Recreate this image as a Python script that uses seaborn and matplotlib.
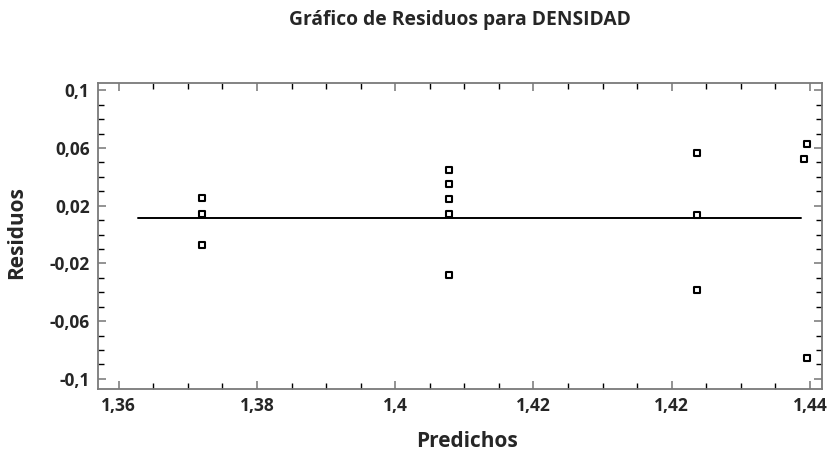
import matplotlib
matplotlib.use("Agg")
import matplotlib.pyplot as plt
import seaborn as sns
import pandas as pd
from matplotlib.ticker import FixedLocator, FixedFormatter, MultipleLocator

# Residuals vs predicted density
predichos = [1.3696, 1.3696, 1.3696,
             1.3982, 1.3982, 1.3982, 1.3982, 1.3982,
             1.4269, 1.4269, 1.4269,
             1.4397, 1.4393, 1.4397]
residuos = [0.0252, 0.0141, -0.0074,
            0.0448, 0.0351, 0.0249, 0.0143, -0.0280,
            0.0565, 0.0134, -0.0384,
            0.0630, 0.0524, -0.0852]

# Reference line
linea_x = [1.3622, 1.4390]
linea_y = [0.0113, 0.0113]

xticks = [1.36, 1.376, 1.392, 1.408, 1.424, 1.44]
xticklabels = ["1,36", "1,38", "1,4", "1,42", "1,42", "1,44"]
yticks = [-0.1, -0.06, -0.02, 0.02, 0.06, 0.1]
yticklabels = ["-0,1", "-0,06", "-0,02", "0,02", "0,06", "0,1"]

sns.set_theme(style="white")
plt.rcParams["font.family"] = ["Open Sans", "DejaVu Sans"]

W, H = 835, 455
fig = plt.figure(figsize=(W / 100, H / 100), dpi=100)
ax = fig.add_axes([98 / W, 1 - 389 / H, (822 - 98) / W, (389 - 83) / H])

df = pd.DataFrame({"Predichos": predichos, "Residuos": residuos})
sns.lineplot(x=linea_x, y=linea_y, ax=ax, color="black", linewidth=1.4, zorder=2)
sns.scatterplot(data=df, x="Predichos", y="Residuos", ax=ax, marker="s",
                s=22, facecolor="white", edgecolor="black", linewidth=1.5, zorder=3)

ax.set_xlim(1.3576, 1.4414)
ax.set_ylim(-0.107, 0.105)

ax.xaxis.set_major_locator(FixedLocator(xticks))
ax.xaxis.set_major_formatter(FixedFormatter(xticklabels))
ax.yaxis.set_major_locator(FixedLocator(yticks))
ax.yaxis.set_major_formatter(FixedFormatter(yticklabels))
ax.xaxis.set_minor_locator(MultipleLocator(0.004))
ax.yaxis.set_minor_locator(MultipleLocator(0.01))

ax.tick_params(which="both", direction="in", top=True, right=True,
               bottom=True, left=True)
ax.tick_params(which="major", length=6, width=1.2, color="#808080",
               labelsize=12.5, pad=6)
ax.tick_params(which="minor", length=4, width=1.0, color="black")
for lab in ax.get_xticklabels() + ax.get_yticklabels():
    lab.set_fontweight("bold")

for sp in ax.spines.values():
    sp.set_color("#7a7a7a")
    sp.set_linewidth(1.3)

ax.set_xlabel("Predichos", fontsize=15, fontweight="bold")
ax.set_ylabel("Residuos", fontsize=15, fontweight="bold")
ax.xaxis.set_label_coords(0.51, -0.136)
ax.yaxis.set_label_coords(-0.098, 0.51)

fig.text(460 / W, 1 - 20 / H, "Gráfico de Residuos para DENSIDAD",
         ha="center", va="center", fontsize=13.9, fontweight="bold")

fig.savefig("out.png", dpi=100, facecolor="white")
